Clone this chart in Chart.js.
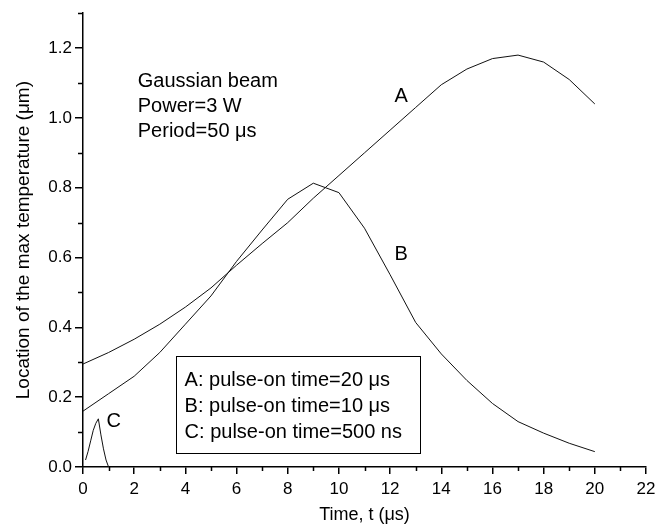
<!DOCTYPE html>
<html>
<head>
<meta charset="utf-8">
<script src="https://cdn.jsdelivr.net/npm/chart.js@4"></script>
<style>
  html, body { margin: 0; padding: 0; background: #fff; }
  #wrap { width: 662px; height: 527px; position: relative; }
</style>
</head>
<body>
<div id="wrap"><canvas id="chart"></canvas></div>
<script>
// ── Dati ────────────────────────────────────
const timeAB = [0, 1, 2, 3, 4, 5, 6, 7, 8, 9, 10, 11, 12, 13, 14, 15, 16, 17, 18, 19, 20];
const valuesA = [0.295, 0.328, 0.366, 0.409, 0.458, 0.513, 0.578, 0.640, 0.700, 0.770, 0.835, 0.900, 0.965, 1.030, 1.095, 1.140, 1.170, 1.180, 1.160, 1.110, 1.040];
const valuesB = [0.160, 0.210, 0.260, 0.328, 0.409, 0.490, 0.589, 0.679, 0.767, 0.813, 0.786, 0.684, 0.551, 0.414, 0.324, 0.248, 0.182, 0.130, 0.097, 0.068, 0.044];
const timeC = [0.1, 0.2, 0.3, 0.4, 0.5, 0.6, 0.7, 0.8, 0.9, 1.0];
const valuesC = [0.020, 0.045, 0.075, 0.105, 0.125, 0.138, 0.092, 0.052, 0.020, 0.0];

const xMinorTicks = [1, 3, 5, 7, 9, 11, 13, 15, 17, 19, 21];
const yMinorTicks = [0.1, 0.3, 0.5, 0.7, 0.9, 1.1, 1.3];

const curveLabels = [
  { text: 'A', x: 12.43, y: 1.062 },
  { text: 'B', x: 12.43, y: 0.610 },
  { text: 'C', x: 1.20, y: 0.130 }
];
const infoLines = ['Gaussian beam', 'Power=3 W', 'Period=50 \u03bcs'];
const legendLines = [
  'A: pulse-on time=20 \u03bcs',
  'B: pulse-on time=10 \u03bcs',
  'C: pulse-on time=500 ns'
];

const FONT = '"Liberation Sans", Arial, sans-serif';
const toPoints = (xs, ys) => xs.map((x, i) => ({ x, y: ys[i] }));

// ── Tacche minori, testi e riquadro legenda ─
const annotations = {
  id: 'annotations',
  afterDraw(chart) {
    const { ctx, scales: { x, y } } = chart;
    ctx.save();
    ctx.strokeStyle = '#000';
    ctx.lineWidth = 1.5;

    // tacche minori (verso l'esterno)
    ctx.beginPath();
    xMinorTicks.forEach(v => {
      const px = Math.round(x.getPixelForValue(v)) + 0.5;
      ctx.moveTo(px, y.bottom);
      ctx.lineTo(px, y.bottom + 4);
    });
    yMinorTicks.forEach(v => {
      const py = Math.round(y.getPixelForValue(v)) + 0.5;
      ctx.moveTo(x.left, py);
      ctx.lineTo(x.left - 5, py);
    });
    ctx.stroke();

    ctx.fillStyle = '#000';
    ctx.textBaseline = 'middle';

    // etichette delle curve
    ctx.font = `20px ${FONT}`;
    ctx.textAlign = 'center';
    curveLabels.forEach(l => {
      ctx.fillText(l.text, x.getPixelForValue(l.x), y.getPixelForValue(l.y));
    });

    // testo in alto a sinistra
    ctx.textAlign = 'left';
    const infoX = x.getPixelForValue(2.14);
    const infoY = y.getPixelForValue(1.1045);
    infoLines.forEach((t, i) => ctx.fillText(t, infoX, infoY + i * 25));

    // riquadro legenda
    const bx0 = Math.round(x.getPixelForValue(3.65)) + 0.5;
    const bx1 = Math.round(x.getPixelForValue(13.18)) + 0.5;
    const by0 = Math.round(y.getPixelForValue(0.319)) + 0.5;
    const by1 = Math.round(y.getPixelForValue(0.0415)) + 0.5;
    ctx.lineWidth = 1;
    ctx.fillStyle = '#fff';
    ctx.fillRect(bx0, by0, bx1 - bx0, by1 - by0);
    ctx.strokeRect(bx0, by0, bx1 - bx0, by1 - by0);
    ctx.fillStyle = '#000';
    const lx = x.getPixelForValue(3.97);
    const ly = y.getPixelForValue(0.249);
    legendLines.forEach((t, i) => ctx.fillText(t, lx, ly + i * 26));

    ctx.restore();
  }
};

const lineStyle = {
  borderColor: '#111',
  borderWidth: 1,
  pointRadius: 0,
  tension: 0,
  fill: false
};

new Chart(document.getElementById('chart'), {
  type: 'line',
  data: {
    datasets: [
      { label: 'A', data: toPoints(timeAB, valuesA), ...lineStyle },
      { label: 'B', data: toPoints(timeAB, valuesB), ...lineStyle },
      { label: 'C', data: toPoints(timeC, valuesC), ...lineStyle }
    ]
  },
  options: {
    responsive: true,
    maintainAspectRatio: false,
    animation: false,
    layout: { padding: { top: 10, right: 16, left: 0, bottom: 0 } },
    plugins: {
      legend: { display: false },
      tooltip: { enabled: false }
    },
    scales: {
      x: {
        type: 'linear',
        min: 0,
        max: 22,
        afterFit: s => { s.height = 60; },
        ticks: { stepSize: 2, color: '#000', font: { family: FONT, size: 17 }, padding: 5, maxRotation: 0 },
        grid: { drawOnChartArea: false, drawTicks: true, tickLength: 7, color: '#000', lineWidth: 1.5 },
        border: { display: true, color: '#000', width: 1.5 },
        title: {
          display: true,
          text: 'Time, t (\u03bcs)',
          color: '#000',
          font: { family: FONT, size: 18 },
          padding: { top: 0, bottom: 1 }
        }
      },
      y: {
        type: 'linear',
        min: 0,
        max: 1.3,
        afterFit: s => { s.width = 83; },
        afterBuildTicks: s => {
          s.ticks = s.ticks.filter(t => Math.abs(t.value / 0.2 - Math.round(t.value / 0.2)) < 1e-6);
        },
        ticks: {
          stepSize: 0.2,
          color: '#000',
          font: { family: FONT, size: 17 },
          padding: 3,
          callback: v => v.toFixed(1)
        },
        grid: { drawOnChartArea: false, drawTicks: true, tickLength: 8, color: '#000', lineWidth: 1.5 },
        border: { display: true, color: '#000', width: 1.5 },
        title: {
          display: true,
          text: 'Location of the max temperature (\u03bcm)',
          color: '#000',
          font: { family: FONT, size: 19 },
          padding: { top: 12, bottom: 0 }
        }
      }
    }
  },
  plugins: [annotations]
});
</script>
</body>
</html>
